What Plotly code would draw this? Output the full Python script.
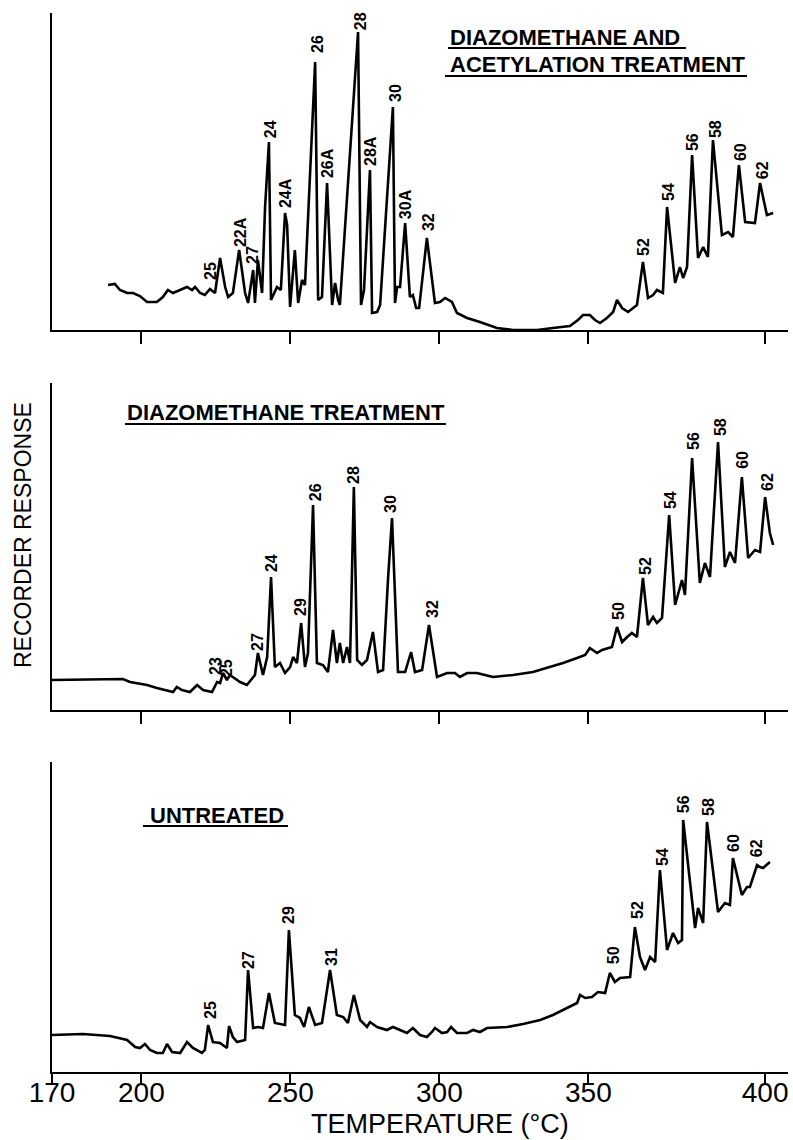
import plotly.graph_objects as go

FONT = "Liberation Sans"

# ---------------- data (temperature on the chart scale, response in arbitrary units) -------------
TEMP_A = [188.8, 191.1, 192.8, 195.2, 197.2, 199.5, 201.9, 205.2, 207.2, 208.9, 210.6, 213.0, 215.3, 217.0,
          218.0, 219.7, 221.3, 223.0, 224.7, 226.4, 228.1, 229.1, 230.7, 232.8, 234.8, 235.8, 237.5, 238.1,
          239.1, 240.5, 241.5, 242.8, 243.5, 245.5, 246.8, 248.2, 248.9, 249.9, 251.5, 252.6, 253.9, 254.9,
          258.3, 259.3, 260.6, 262.3, 264.0, 265.0, 266.0, 266.6, 272.7, 273.7, 274.7, 276.7, 277.4, 279.1,
          280.1, 284.4, 285.1, 285.8, 286.8, 288.5, 290.1, 291.1, 292.2, 293.2, 295.8, 298.5, 300.2, 301.9,
          304.2, 305.9, 309.3, 313.6, 319.3, 324.7, 332.8, 338.1, 343.8, 346.5, 348.2, 350.5, 352.2, 353.9,
          356.2, 358.3, 359.6, 361.3, 363.3, 366.3, 368.3, 370.0, 371.7, 373.0, 375.0, 376.4, 379.1, 380.7,
          381.8, 383.1, 384.8, 386.8, 388.5, 390.1, 391.8, 394.8, 396.9, 398.5, 400.5, 402.6, 405.9, 407.6,
          409.9, 412.0]
RESP_A = [45, 46, 40, 37, 37, 34, 28, 28, 33, 40, 37, 40, 43, 40,
          43, 37, 35, 41, 37, 72, 43, 33, 37, 80, 37, 27, 60, 27,
          70, 37, 123, 188, 30, 43, 40, 117, 105, 23, 80, 27, 50, 45,
          268, 30, 33, 147, 25, 47, 30, 25, 298, 25, 40, 160, 17, 18,
          25, 223, 27, 43, 43, 107, 33, 35, 22, 22, 92, 27, 28, 32,
          28, 17, 12, 8, 2, 0, 0, 2, 4, 10, 15, 15, 10, 7,
          12, 18, 30, 22, 18, 25, 68, 32, 35, 40, 37, 123, 47, 63,
          52, 63, 175, 72, 83, 73, 190, 95, 98, 93, 165, 108, 107, 147,
          115, 117]

TEMP_B = [170.0, 193.8, 196.2, 198.5, 201.9, 205.2, 210.6, 211.9, 213.6, 216.3, 218.7, 220.7, 223.7, 225.4,
          226.4, 227.4, 228.7, 229.7, 230.7, 233.1, 235.4, 237.1, 238.1, 239.1, 240.8, 242.2, 243.5, 244.8,
          246.5, 248.2, 249.9, 250.9, 252.2, 253.6, 254.9, 255.9, 257.6, 258.9, 260.9, 262.6, 264.3, 265.6,
          266.6, 267.7, 269.0, 270.0, 271.3, 272.4, 274.0, 275.7, 277.7, 279.4, 281.1, 282.8, 284.1, 286.1,
          288.5, 290.5, 291.8, 294.2, 296.5, 299.2, 302.6, 305.2, 306.9, 309.3, 312.6, 318.0, 324.7, 331.4,
          336.1, 341.5, 346.2, 348.9, 350.5, 352.9, 354.6, 357.9, 359.6, 361.3, 363.0, 364.6, 366.3, 368.3,
          370.0, 371.7, 373.0, 374.7, 377.1, 379.1, 381.4, 382.4, 384.8, 387.4, 389.1, 390.8, 393.5, 395.8,
          397.5, 399.2, 401.5, 403.6, 405.9, 407.6, 409.3, 410.9, 412.0]
RESP_B = [30, 31, 28, 27, 25, 22, 18, 23, 20, 18, 25, 20, 18, 28,
          27, 37, 30, 35, 33, 28, 25, 32, 35, 57, 35, 53, 133, 43,
          47, 37, 43, 53, 47, 87, 43, 57, 205, 47, 45, 38, 80, 47,
          67, 47, 63, 47, 223, 50, 45, 50, 78, 38, 40, 133, 192, 38,
          38, 58, 38, 40, 85, 33, 37, 37, 33, 37, 37, 33, 35, 38,
          42, 47, 52, 55, 62, 57, 60, 63, 83, 68, 73, 77, 73, 132,
          85, 93, 87, 92, 195, 105, 130, 115, 252, 127, 147, 133, 268, 143,
          158, 147, 233, 152, 160, 158, 213, 177, 165]

TEMP_C = [170.0, 180.4, 189.5, 195.2, 197.9, 199.5, 201.2, 202.9, 205.2, 207.2, 208.6, 210.3, 213.0, 215.3,
          217.3, 220.3, 221.3, 222.4, 224.0, 226.4, 228.7, 229.4, 230.7, 232.1, 234.8, 235.8, 237.5, 239.1,
          240.8, 242.8, 244.8, 248.2, 249.5, 251.5, 253.2, 254.6, 256.2, 258.3, 260.6, 263.3, 265.6, 267.7,
          269.3, 271.3, 273.4, 275.7, 276.7, 279.1, 282.4, 284.4, 286.8, 289.1, 291.1, 293.5, 295.8, 297.5,
          298.5, 300.9, 302.6, 303.9, 305.9, 309.3, 311.3, 313.6, 316.0, 322.7, 328.1, 333.8, 338.1, 342.8,
          346.2, 347.2, 348.9, 351.2, 353.2, 355.6, 357.2, 358.9, 360.6, 364.0, 365.6, 367.3, 369.0, 370.7,
          372.4, 374.0, 376.4, 378.4, 380.1, 381.4, 381.8, 385.8, 386.8, 388.5, 389.8, 393.5, 395.8, 397.5,
          398.5, 401.5, 403.2, 404.2, 406.6, 407.6, 408.6, 410.9]
RESP_C = [37, 38, 36, 32, 25, 24, 28, 22, 19, 19, 28, 20, 19, 30,
          24, 19, 22, 47, 30, 29, 24, 46, 35, 30, 32, 102, 44, 45,
          44, 79, 49, 47, 142, 57, 54, 45, 65, 47, 49, 102, 57, 55,
          49, 77, 52, 45, 50, 45, 42, 45, 42, 39, 44, 37, 35, 40,
          44, 39, 40, 45, 39, 39, 42, 40, 44, 45, 48, 52, 57, 64,
          69, 77, 74, 75, 80, 79, 99, 90, 94, 95, 145, 115, 102, 115,
          110, 202, 122, 139, 129, 132, 252, 144, 164, 149, 250, 160, 169, 167,
          214, 177, 185, 185, 207, 205, 204, 210]

# peak labels
LBL_A_TEXT = ["25", "22A", "27", "24", "24A", "26", "26A", "28", "28A", "30", "30A", "32",
              "52", "54", "56", "58", "60", "62"]
LBL_A_T = [223.0, 233.1, 237.1, 243.2, 248.2, 258.9, 262.3, 273.4, 276.7, 285.1, 288.5, 296.2,
           368.3, 376.7, 384.8, 392.5, 400.9, 408.3]
LBL_A_R = [59, 98, 75, 201, 137, 286, 167, 309, 179, 237, 126, 108,
           83, 138, 188, 201, 178, 160]

LBL_B_TEXT = ["23", "25", "27", "24", "29", "26", "28", "30", "32", "50", "52", "54", "56", "58", "60", "62"]
LBL_B_T = [224.7, 228.4, 238.8, 243.5, 253.2, 258.3, 271.0, 283.4, 297.5, 359.9, 369.0, 377.4,
           385.1, 394.2, 401.5, 409.9]
LBL_B_R = [44, 42, 68, 147, 103, 218, 235, 206, 101, 99, 144, 210, 269, 283, 250, 228]

LBL_C_TEXT = ["25", "27", "29", "31", "50", "52", "54", "56", "58", "60", "62"]
LBL_C_T = [223.0, 235.8, 249.2, 263.6, 358.3, 366.3, 374.7, 381.8, 390.1, 398.5, 406.3]
LBL_C_R = [62, 112, 157, 115, 117, 162, 215, 268, 265, 229, 224]

PANEL_TITLES = [["DIAZOMETHANE AND", "ACETYLATION TREATMENT"], ["DIAZOMETHANE TREATMENT"], ["UNTREATED"]]

TICK_VALUES = [170, 200, 250, 300, 350, 409.3]
TICK_TEXT = ["170", "200", "250", "300", "350", "400"]

X_LABEL = "TEMPERATURE (\u00b0C)"
Y_LABEL = "RECORDER RESPONSE"

# ---------------- layout geometry ----------------
W, H = 793, 1140
XD = [52 / W, 788 / W]
XR = [170, 170 + 736 / 2.98]
PANELS = [  # (top px, bottom px)
    (13, 330),
    (383, 710),
    (762, 1072),
]


def py(p):
    return 1 - p / H


fig = go.Figure()
series = [(TEMP_A, RESP_A), (TEMP_B, RESP_B), (TEMP_C, RESP_C)]
labels = [(LBL_A_TEXT, LBL_A_T, LBL_A_R), (LBL_B_TEXT, LBL_B_T, LBL_B_R), (LBL_C_TEXT, LBL_C_T, LBL_C_R)]

annotations = []
layout_axes = {}
for i, ((t, r), (top, bot)) in enumerate(zip(series, PANELS)):
    n = "" if i == 0 else str(i + 1)
    fig.add_trace(go.Scatter(x=t, y=r, mode="lines", line=dict(color="black", width=2.6),
                             xaxis="x" + n, yaxis="y" + n, showlegend=False, hoverinfo="skip"))
    last = i == 2
    layout_axes["xaxis" + n] = dict(
        domain=XD, range=XR, anchor="y" + n, showline=True, linecolor="black", linewidth=2,
        ticks="outside", ticklen=10 if last else 12, tickwidth=2, tickcolor="black",
        tickvals=TICK_VALUES if last else TICK_VALUES[1:],
        ticktext=TICK_TEXT if last else TICK_TEXT[1:],
        showticklabels=last, tickfont=dict(family=FONT, size=28, color="black"),
        ticklabelstandoff=-16, automargin=False,
        showgrid=False, zeroline=False, fixedrange=True)
    layout_axes["yaxis" + n] = dict(
        domain=[py(bot), py(top)], range=[0, bot - top], anchor="x" + n, showline=True,
        linecolor="black", linewidth=2, showticklabels=False, ticks="", showgrid=False,
        zeroline=False, fixedrange=True, automargin=False)
    txt, lt, lr = labels[i]
    for s, xv, yv in zip(txt, lt, lr):
        annotations.append(dict(x=xv, y=yv, xref="x" + n, yref="y" + n, text=s, textangle=-90,
                                showarrow=False, xanchor="center", yanchor="middle",
                                font=dict(family=FONT, size=16, color="black", weight="bold")))

# panel titles (left x px, centre y px) and underlines
title_pos = [[(448, 38), (448, 65)], [(125, 412)], [(148, 815)]]
underlines = [[(448, 686, 48), (445, 747, 76)], [(125, 446, 424)], [(143, 288, 826)]]
for lines, poss in zip(PANEL_TITLES, title_pos):
    for s, (x0, y0) in zip(lines, poss):
        annotations.append(dict(x=x0 / W, y=py(y0), xref="paper", yref="paper", text=s, showarrow=False,
                                xanchor="left", yanchor="middle",
                                font=dict(family=FONT, size=22, color="black", weight="bold")))
shapes = []
for group in underlines:
    for x0, x1, y0 in group:
        shapes.append(dict(type="line", xref="paper", yref="paper", x0=x0 / W, x1=x1 / W, y0=py(y0), y1=py(y0),
                           line=dict(color="black", width=2)))

annotations.append(dict(x=440 / W, y=py(1124), xref="paper", yref="paper", text=X_LABEL, showarrow=False,
                        xanchor="center", yanchor="middle", font=dict(family=FONT, size=27, color="black")))
annotations.append(dict(x=23 / W, y=py(535), xref="paper", yref="paper", text=Y_LABEL, showarrow=False,
                        textangle=-90, xanchor="center", yanchor="middle",
                        font=dict(family=FONT, size=23, color="black")))

fig.update_layout(width=W, height=H, margin=dict(l=0, r=0, t=0, b=0, autoexpand=False),
                  paper_bgcolor="white", plot_bgcolor="white",
                  annotations=annotations, shapes=shapes, **layout_axes)

fig.write_html("out.html", config={"displayModeBar": False})
